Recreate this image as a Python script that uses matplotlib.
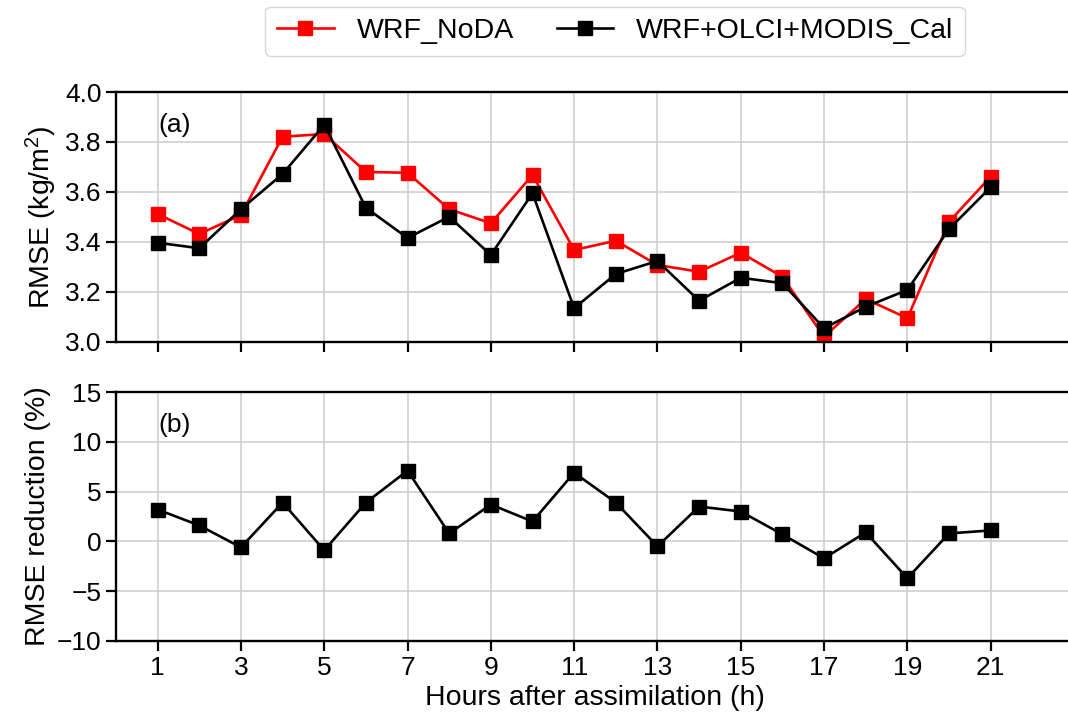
import matplotlib
matplotlib.use('Agg')
import matplotlib.pyplot as plt
import numpy as np

plt.rcParams['font.family'] = ['Liberation Sans', 'DejaVu Sans']
plt.rcParams['mathtext.fontset'] = 'custom'
plt.rcParams['mathtext.rm'] = 'Liberation Sans'
plt.rcParams['mathtext.default'] = 'rm'

# RMSE per forecast hour
hours = np.arange(1, 22)
rmse_noda = [3.512, 3.432, 3.508, 3.821, 3.832, 3.680, 3.677, 3.531, 3.475, 3.668,
             3.368, 3.405, 3.308, 3.281, 3.357, 3.261, 3.021, 3.172, 3.095, 3.481, 3.661]
rmse_da = [3.397, 3.375, 3.531, 3.672, 3.869, 3.537, 3.416, 3.501, 3.348, 3.595,
           3.135, 3.272, 3.324, 3.165, 3.257, 3.235, 3.055, 3.141, 3.208, 3.452, 3.619]
reduction = [3.2, 1.6, -0.6, 3.9, -0.9, 3.9, 7.1, 0.8, 3.7, 2.0,
             6.9, 3.9, -0.5, 3.5, 3.0, 0.7, -1.7, 0.9, -3.7, 0.8, 1.1]
xticks = np.arange(1, 22, 2)

fig = plt.figure(figsize=(10.68, 7.25), dpi=100)
ax1 = fig.add_axes([0.1086, 0.5283, 0.897, 0.3448])
ax2 = fig.add_axes([0.1086, 0.1159, 0.897, 0.3434])

fs_tick = 19
fs_lab = 20.5

l1, = ax1.plot(hours, rmse_noda, color='red', marker='s', ms=9.5, lw=1.9, label='WRF_NoDA')
l2, = ax1.plot(hours, rmse_da, color='black', marker='s', ms=9.5, lw=1.9, label='WRF+OLCI+MODIS_Cal')
ax2.plot(hours, reduction, color='black', marker='s', ms=9.5, lw=1.9)

ax1.set_ylim(3.0, 4.0)
ax1.set_yticks(np.arange(3.0, 4.01, 0.2))
ax1.set_ylabel('RMSE (kg/m$^2$)', fontsize=fs_lab)
ax1.text(0.044, 0.868, '(a)', transform=ax1.transAxes, fontsize=fs_tick, va='center')

ax2.set_ylim(-10, 15)
ax2.set_yticks(np.arange(-10, 16, 5))
ax2.set_ylabel('RMSE reduction (%)', fontsize=fs_lab)
ax2.set_xlabel('Hours after assimilation (h)', fontsize=fs_lab)
ax2.text(0.044, 0.868, '(b)', transform=ax2.transAxes, fontsize=fs_tick, va='center')

for ax in (ax1, ax2):
    ax.set_xlim(0, 23)
    ax.set_xticks(xticks)
    ax.grid(True, color='0.8', lw=1.1)
    ax.set_axisbelow(True)
    ax.tick_params(labelsize=fs_tick, length=7, width=1.6)
    for s in ax.spines.values():
        s.set_linewidth(1.7)
ax1.set_xticklabels([])

fig.legend(handles=[l1, l2], loc='center', bbox_to_anchor=(0.576, 0.957), ncol=2,
           fontsize=fs_lab, columnspacing=1.5, borderpad=0.4)

fig.savefig('out.png', dpi=100)
